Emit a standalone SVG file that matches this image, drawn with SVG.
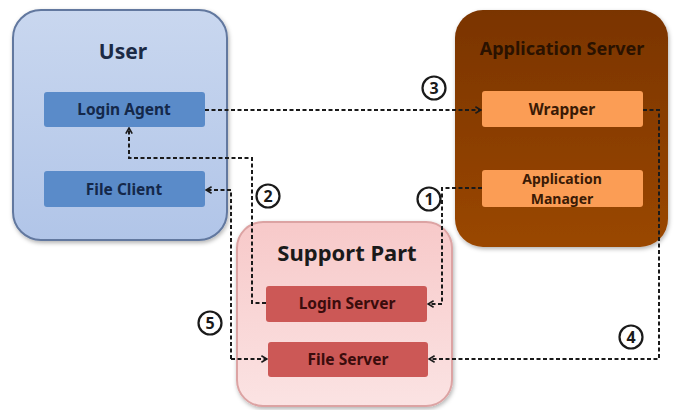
<svg xmlns="http://www.w3.org/2000/svg" width="678" height="410" viewBox="0 0 678 410">
  <defs>
    <linearGradient id="gUser" x1="0" y1="0" x2="0" y2="1">
      <stop offset="0" stop-color="#c9d7ef"/>
      <stop offset="1" stop-color="#b1c5e8"/>
    </linearGradient>
    <linearGradient id="gApp" x1="0" y1="0" x2="0" y2="1">
      <stop offset="0" stop-color="#7a3400"/>
      <stop offset="1" stop-color="#9a4700"/>
    </linearGradient>
    <linearGradient id="gSup" x1="0" y1="0" x2="0" y2="1">
      <stop offset="0" stop-color="#f7c9c9"/>
      <stop offset="1" stop-color="#fbe3e3"/>
    </linearGradient>
    <filter id="shadow" x="-10%" y="-10%" width="120%" height="120%">
      <feDropShadow dx="1" dy="2" stdDeviation="2" flood-color="#000" flood-opacity="0.3"/>
    </filter>
    <marker id="arrow" viewBox="0 0 10 10" refX="9" refY="5" markerWidth="8" markerHeight="8" markerUnits="userSpaceOnUse" orient="auto">
      <path d="M2,1 L9,5 L2,9" fill="none" stroke="#1a1a1a" stroke-width="2"/>
    </marker>
  </defs>
  <style>
    .title { font-family: "Noto Sans", "Open Sans", sans-serif; font-weight: bold; text-anchor: middle; }
    .label { font-family: "Noto Sans", "Open Sans", sans-serif; font-weight: bold; font-size: 15.5px; text-anchor: middle; }
    .small { font-size: 14px; }
    .ring { fill: #ffffff; stroke: #1a1a1a; stroke-width: 2.2; }
    .num { font-family: "Noto Sans", "Open Sans", sans-serif; font-size: 16px; font-weight: bold; text-anchor: middle; fill: #1a1a1a; }
    .link { fill: none; stroke: #1a1a1a; stroke-width: 2; stroke-dasharray: 4 2.5; }
    .blue { fill: #5a8bc9; }
    .orange { fill: #fb9d55; }
    .red { fill: #cc5856; }
  </style>

  <rect width="678" height="410" fill="#ffffff"/>

  <!-- User -->
  <g id="user">
    <rect x="13" y="10" width="214" height="230" rx="28" fill="url(#gUser)" stroke="#62789f" stroke-width="2" filter="url(#shadow)"/>
    <text class="title" x="123" y="59" font-size="21" fill="#1b2a45">User</text>
  </g>
  <g id="login-agent">
    <rect class="blue" x="44" y="92" width="161" height="35" rx="3"/>
    <text class="label" x="124" y="115" fill="#14284a">Login Agent</text>
  </g>
  <g id="file-client">
    <rect class="blue" x="44" y="171" width="161" height="36" rx="3"/>
    <text class="label" x="124" y="195" fill="#14284a">File Client</text>
  </g>

  <!-- Application Server -->
  <g id="application-server">
    <rect x="455" y="10" width="213" height="237" rx="28" fill="url(#gApp)" filter="url(#shadow)"/>
    <text class="title" x="562" y="55" font-size="18" fill="#2a1200">Application Server</text>
  </g>
  <g id="wrapper">
    <rect class="orange" x="482" y="91" width="161" height="36" rx="3"/>
    <text class="label" x="562" y="115" fill="#3a1a05">Wrapper</text>
  </g>
  <g id="application-manager">
    <rect class="orange" x="482" y="170" width="161" height="37" rx="3"/>
    <text class="label small" x="562" y="184" fill="#3a1a05">Application</text>
    <text class="label small" x="562" y="203.5" fill="#3a1a05">Manager</text>
  </g>

  <!-- Support Part -->
  <g id="support-part">
    <rect x="237" y="222" width="215" height="184" rx="26" fill="url(#gSup)" stroke="#dca3a3" stroke-width="2" filter="url(#shadow)"/>
    <text class="title" x="347" y="261" font-size="22" fill="#1a1a1a">Support Part</text>
  </g>
  <g id="login-server">
    <rect class="red" x="266" y="286" width="161" height="36" rx="3"/>
    <text class="label" x="347" y="309" fill="#3a0c0c">Login Server</text>
  </g>
  <g id="file-server">
    <rect class="red" x="268" y="342" width="160" height="35" rx="3"/>
    <text class="label" x="348" y="365" fill="#3a0c0c">File Server</text>
  </g>

  <!-- Connectors -->
  <g id="connectors">
    <!-- 1: Application Manager -> Login Server -->
    <path class="link" d="M482,188 H442 V304 H428" marker-end="url(#arrow)"/>
    <!-- 2: Login Server -> Login Agent -->
    <path class="link" d="M266,303 H252 V158 H129 V128" marker-end="url(#arrow)"/>
    <!-- 3: Login Agent -> Wrapper -->
    <path class="link" d="M205,110 H481" marker-end="url(#arrow)"/>
    <!-- 4: Wrapper -> File Server -->
    <path class="link" d="M643,110 H659 V359 H429" marker-end="url(#arrow)"/>
    <!-- 5: File Client <-> File Server -->
    <path class="link" d="M231,359 V190 H206" marker-end="url(#arrow)"/>
    <path class="link" d="M231,359 H267" marker-end="url(#arrow)"/>
  </g>

  <!-- Step numbers -->
  <g id="step-1">
    <circle class="ring" cx="429" cy="199" r="11.5"/>
    <text class="num" x="429" y="204.5">1</text>
  </g>
  <g id="step-2">
    <circle class="ring" cx="268" cy="196" r="11.5"/>
    <text class="num" x="268" y="201.5">2</text>
  </g>
  <g id="step-3">
    <circle class="ring" cx="434" cy="88" r="11.5"/>
    <text class="num" x="434" y="93.5">3</text>
  </g>
  <g id="step-4">
    <circle class="ring" cx="631" cy="337" r="11.5"/>
    <text class="num" x="631" y="342.5">4</text>
  </g>
  <g id="step-5">
    <circle class="ring" cx="210" cy="323" r="11.5"/>
    <text class="num" x="210" y="328.5">5</text>
  </g>
</svg>
